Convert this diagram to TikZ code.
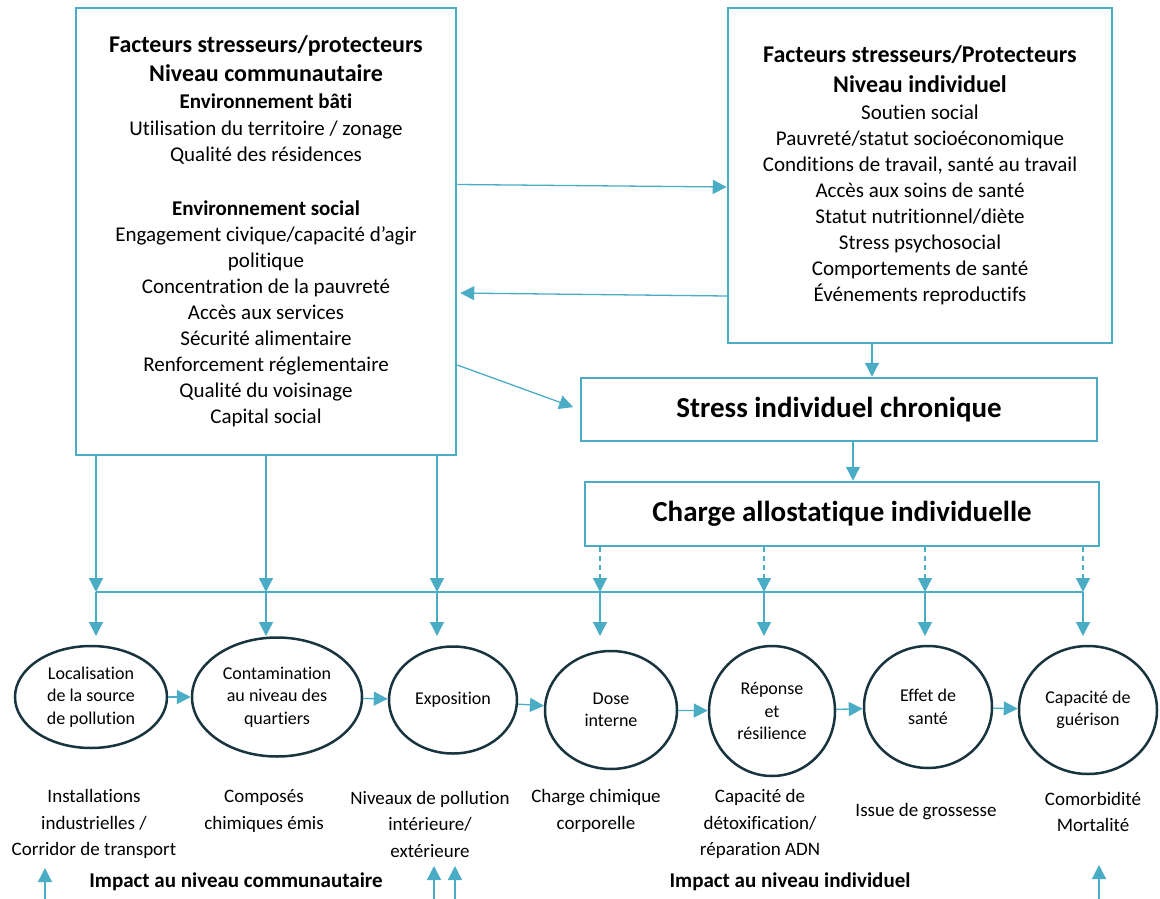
\documentclass[tikz,border=0pt]{standalone}
\usepackage{fontspec}
\setmainfont{Carlito}[Ligatures={NoCommon}]
\usepackage{tikz}
\usetikzlibrary{arrows.meta, positioning, shapes.geometric, calc}
\definecolor{aqua}{HTML}{4BACC6}
\definecolor{darkslate}{HTML}{18343E}

\begin{document}
\begin{tikzpicture}[x=1pt, y=-1pt,
  box/.style={draw=aqua, line width=2.5pt, align=center, inner sep=0pt},
  blob/.style={ellipse, draw=darkslate, line width=2.5pt, align=center, inner sep=0pt, font=\fontsize{18}{22.5}\selectfont},
  conn/.style={draw=aqua, line width=1.3pt, -{Triangle[length=14pt,width=14pt]}},
  bus/.style={draw=aqua, line width=1.3pt},
  lab/.style={align=center, font=\fontsize{19}{26.5}\selectfont},
  imp/.style={font=\fontsize{21}{24}\selectfont\bfseries}]
  \useasboundingbox (0,0) rectangle (1160,899);

  % Factor boxes
  \node[box, minimum width=380pt, minimum height=447pt, font=\fontsize{21}{26}\selectfont] (comm) at (266,231.5)
    {{\fontsize{24}{26}\selectfont\bfseries Facteurs stresseurs/protecteurs}\\[3pt]
     {\fontsize{24}{26}\selectfont\bfseries Niveau communautaire}\\[1pt]
     {\bfseries Environnement bâti}\\[1pt]
     Utilisation du territoire / zonage\\
     Qualité des résidences\\[28pt]
     {\bfseries Environnement social}\\
     Engagement civique/capacité d’agir\\
     politique\\
     Concentration de la pauvreté\\
     Accès aux services\\
     Sécurité alimentaire\\
     Renforcement réglementaire\\
     Qualité du voisinage\\
     Capital social};
  \node[box, minimum width=384pt, minimum height=335pt, font=\fontsize{21}{26}\selectfont] (indiv) at (920,175.5)
    {{\fontsize{24}{26}\selectfont\bfseries Facteurs stresseurs/Protecteurs}\\[4pt]
     {\fontsize{24}{26}\selectfont\bfseries Niveau individuel}\\[1pt]
     Soutien social\\
     Pauvreté/statut socioéconomique\\
     Conditions de travail, santé au travail\\
     Accès aux soins de santé\\
     Statut nutritionnel/diète\\
     Stress psychosocial\\
     Comportements de santé\\
     Événements reproductifs};

  % Stress and load
  \node[box, minimum width=516pt, minimum height=63pt, font=\fontsize{29}{32}\selectfont\bfseries] (stress) at (839,409.5) {Stress individuel chronique};
  \node[box, minimum width=514pt, minimum height=64pt, font=\fontsize{29}{32}\selectfont\bfseries] (load) at (842,514) {Charge allostatique individuelle};

  \draw[conn] ([yshift=47pt]comm.east) -- ([yshift=-11.5pt]indiv.west);
  \draw[conn, shorten >=3pt] ([yshift=-120.5pt]indiv.west) -- ([yshift=-61.5pt]comm.east);
  \draw[conn, shorten >=7pt] ([yshift=-133.5pt]comm.east) -- (stress.west);
  \coordinate (s1) at ([xshift=-48pt]indiv.south);
  \draw[conn] (s1) -- (s1 |- stress.north);
  \coordinate (s2) at ([xshift=14pt]stress.south);
  \draw[conn] (s2) -- (s2 |- load.north);

  % Bus line
  \coordinate (b1) at (96,592);
  \coordinate (b2) at (266,592);
  \coordinate (b3) at (437,592);
  \coordinate (b4) at (600,592);
  \coordinate (b5) at (764,592);
  \coordinate (b6) at (925,592);
  \coordinate (b7) at (1083,592);
  \draw[bus] (b1) -- (b7);
  \draw[conn] (b1 |- comm.south) -- (b1);
  \draw[conn] (b2 |- comm.south) -- (b2);
  \draw[conn] (b3 |- comm.south) -- (b3);
  \draw[conn, dash pattern=on 5pt off 4pt] (b4 |- load.south) -- (b4);
  \draw[conn, dash pattern=on 5pt off 4pt] (b5 |- load.south) -- (b5);
  \draw[conn, dash pattern=on 5pt off 4pt] (b6 |- load.south) -- (b6);
  \draw[conn, dash pattern=on 5pt off 4pt] (b7 |- load.south) -- (b7);

  % Pathway
  \node[blob, minimum width=152pt, minimum height=102pt] (loc) at (91,697) {Localisation\\de la source\\de pollution};
  \node[blob, minimum width=170pt, minimum height=119pt] (cont) at (277,697) {Contamination\\au niveau des\\quartiers};
  \node[blob, minimum width=128pt, minimum height=107pt] (expo) at (453,700) {Exposition};
  \node[blob, minimum width=132pt, minimum height=118pt] (dose) at (611,710) {Dose\\interne};
  \node[blob, minimum width=126pt, minimum height=130pt] (resp) at (772,711) {Réponse\\et\\résilience};
  \node[blob, minimum width=128pt, minimum height=122pt] (effect) at (928,707) {Effet de\\santé};
  \node[blob, minimum width=138pt, minimum height=128pt] (heal) at (1088,710) {Capacité de\\guérison};

  \coordinate (t1) at (96,636);
  \coordinate (t2) at (266,636);
  \coordinate (t3) at (437,636);
  \coordinate (t4) at (600,636);
  \coordinate (t5) at (764,636);
  \coordinate (t6) at (925,636);
  \coordinate (t7) at (1083,636);
  \draw[conn] (b1) -- (t1);
  \draw[conn] (b2) -- (t2);
  \draw[conn] (b3) -- (t3);
  \draw[conn] (b4) -- (t4);
  \draw[conn] (b5) -- (t5);
  \draw[conn] (b6) -- (t6);
  \draw[conn] (b7) -- (t7);

  \draw[conn] (loc) -- (cont);
  \draw[conn] (cont) -- (expo);
  \draw[conn] (expo) -- (dose);
  \draw[conn] (dose) -- (resp);
  \draw[conn] (resp) -- (effect);
  \draw[conn] (effect) -- (heal);

  % Labels
  \node[lab] (inst) at (94,824) {Installations\\industrielles /\\Corridor de transport};
  \node[lab] (comp) at (264,811) {Composés\\chimiques émis};
  \node[lab] (level) at (430,824) {Niveaux de pollution\\intérieure/\\extérieure};
  \node[lab] (body) at (596,811) {Charge chimique\\corporelle};
  \node[lab] (detox) at (760,824) {Capacité de\\détoxification/\\réparation ADN};
  \node[lab] (preg) at (926,812) {Issue de grossesse};
  \node[lab] (morb) at (1093,812) {Comorbidité\\Mortalité};
  \node[imp] (impc) at (236,882) {Impact au niveau communautaire};
  \node[imp] (impi) at (790,882) {Impact au niveau individuel};

  % Up arrows
  \coordinate (u1) at (45,899);
  \coordinate (u1e) at (45,868);
  \coordinate (u2) at (434,899);
  \coordinate (u2e) at (434,866);
  \coordinate (u3) at (455,899);
  \coordinate (u3e) at (455,866);
  \coordinate (u4) at (1099,899);
  \coordinate (u4e) at (1099,865);
  \draw[conn] (u1) -- (u1e);
  \draw[conn] (u2) -- (u2e);
  \draw[conn] (u3) -- (u3e);
  \draw[conn] (u4) -- (u4e);
\end{tikzpicture}
\end{document}
